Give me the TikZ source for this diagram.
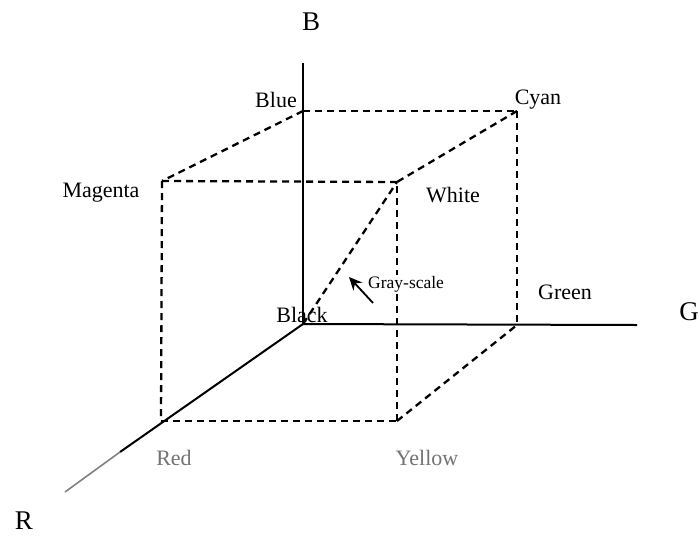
\documentclass[tikz,border=0pt]{standalone}
\usepackage{fontspec}
\setmainfont{Liberation Serif}
\usetikzlibrary{arrows.meta}
\begin{document}
\begin{tikzpicture}[x=1pt,y=-1pt,
  axis/.style={line width=2pt,black},
  edge/.style={line width=2.3pt,dash pattern=on 7pt off 5pt,black},
  lbl/.style={inner sep=0pt,font=\fontsize{22}{24}\selectfont},
  axlbl/.style={inner sep=0pt,font=\fontsize{27}{30}\selectfont},
  graylbl/.style={lbl,text=black!55}]
\useasboundingbox (0,0) rectangle (700,536);
% corners
\coordinate (K) at (303,324);
\coordinate (Bl) at (303,111);
\coordinate (C) at (517,111);
\coordinate (M) at (162,181);
\coordinate (W) at (397,182);
\coordinate (Rd) at (161,421);
\coordinate (Y) at (397,421);
\coordinate (Gn) at (517,325);
% axis ends
\coordinate (Btop) at (303,63);
\coordinate (Gend) at (637,325);
\coordinate (Rmid) at (120,452);
\coordinate (Rend) at (65,492);
% axes
\draw[axis] (K) -- (Btop);
\draw[axis] (K) -- (Gend);
\draw[axis] (K) -- (Rmid);
\draw[axis,black!50,line width=1.6pt] (Rmid) -- (Rend);
% cube edges
\draw[edge] (Bl) -- (C);
\draw[edge] (Bl) -- (M);
\draw[edge] (M) -- (W);
\draw[edge] (C) -- (W);
\draw[edge] (M) -- (Rd);
\draw[edge] (Rd) -- (Y);
\draw[edge] (Y) -- (W);
\draw[edge] (Y) -- (Gn);
\draw[edge] (C) -- (Gn);
\draw[edge] (K) -- (W);
% gray-scale arrow
\coordinate (gt) at (373,303);
\coordinate (gh) at (349,277);
\draw[line width=1.8pt,-{Stealth[length=13pt,width=12pt]}] (gt) -- (gh);
\node[inner sep=1pt,fill=white,anchor=west,font=\fontsize{17.5}{19}\selectfont] (gs) at (367,284) {Gray-scale};
% labels
\node[axlbl] (lB) at (311,22) {B};
\node[axlbl] (lG) at (689,312) {G};
\node[axlbl] (lR) at (24,521) {R};
\node[lbl] (lBlue) at (276,100) {Blue};
\node[lbl] (lCyan) at (538,100) {Cyan};
\node[lbl] (lMag) at (101,193) {Magenta};
\node[lbl] (lWhite) at (453,195) {White};
\node[lbl] (lBlack) at (302,315) {Black};
\node[lbl] (lGreen) at (565,292) {Green};
\node[graylbl] (lRed) at (174,458) {Red};
\node[graylbl] (lYel) at (427,458) {Yellow};
\end{tikzpicture}
\end{document}
